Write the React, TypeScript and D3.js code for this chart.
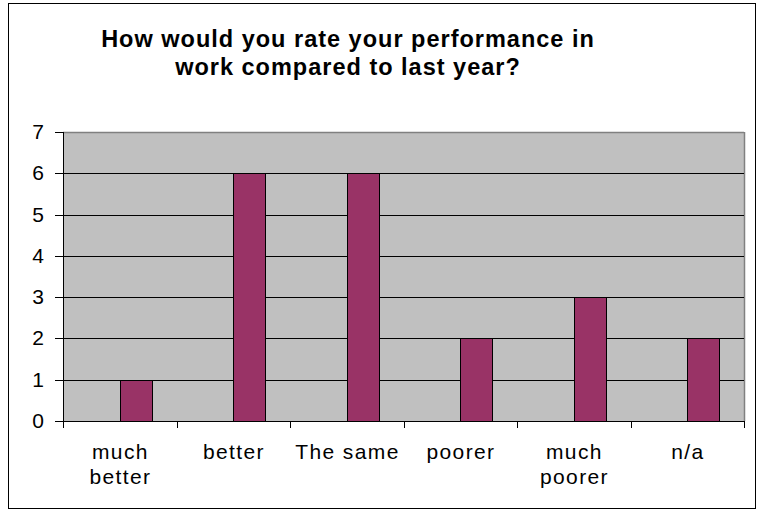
import * as d3 from 'd3';
import React from 'react';

const categories = ['much better', 'better', 'The same', 'poorer', 'much poorer', 'n/a'];
const counts = [1, 6, 6, 2, 3, 2];
const yTicks = [0, 1, 2, 3, 4, 5, 6, 7];
const titleLines = ['How would you rate your performance in', 'work compared to last year?'];

const App = () => {
	const width = 757;
	const height = 510;
	const plot = { left: 63, right: 744, top: 132, bottom: 421 };

	const x = d3.scaleBand().domain(categories).range([plot.left, plot.right]);
	const y = d3.scaleLinear().domain([0, 7]).range([plot.bottom, plot.top]);
	const bw = x.bandwidth();
	const barW = bw * 0.285;
	const font = 'Arial, "Liberation Sans", sans-serif';

	return (
		<svg
			width={width}
			height={height}
			style={{ position: 'absolute', left: 0, top: 0, background: 'white' }}
			fontFamily={font}
		>
			<rect x={8.5} y={3.5} width={747} height={505} fill="white" stroke="black" strokeWidth={1} />
			{titleLines.map((t, i) => (
				<text key={i} x={348} y={47 + i * 28} textAnchor="middle" fontWeight="bold" fontSize={23.5} letterSpacing={1}>
					{t}
				</text>
			))}
			<rect x={plot.left} y={plot.top} width={plot.right - plot.left} height={plot.bottom - plot.top} fill="#C0C0C0" />
			<line x1={plot.left} x2={plot.right} y1={plot.top + 0.5} y2={plot.top + 0.5} stroke="#808080" strokeWidth={1.5} />
			<line x1={plot.right + 0.5} x2={plot.right + 0.5} y1={plot.top} y2={plot.bottom} stroke="#808080" strokeWidth={1.5} />
			{yTicks.filter((v) => v > 0 && v < 7).map((v) => (
				<line key={v} x1={plot.left} x2={plot.right} y1={Math.round(y(v)) + 0.5} y2={Math.round(y(v)) + 0.5} stroke="black" />
			))}
			{categories.map((c, i) => (
				<rect
					key={c}
					x={Math.round((x(c) as number) + bw / 2) + 0.5}
					y={Math.round(y(counts[i])) + 0.5}
					width={Math.round(barW)}
					height={Math.round(y(0)) - Math.round(y(counts[i]))}
					fill="#993366"
					stroke="black"
				/>
			))}
			<line x1={plot.left + 0.5} x2={plot.left + 0.5} y1={plot.top} y2={plot.bottom + 1} stroke="black" />
			<line x1={plot.left} x2={plot.right} y1={plot.bottom + 0.5} y2={plot.bottom + 0.5} stroke="black" />
			{yTicks.map((v) => (
				<g key={v}>
					<line x1={55} x2={plot.left} y1={Math.round(y(v)) + 0.5} y2={Math.round(y(v)) + 0.5} stroke="black" />
					<text x={44} y={y(v) + 7} textAnchor="end" fontSize={21}>
						{v}
					</text>
				</g>
			))}
			{categories.map((c) => (
				<line
					key={'t' + c}
					x1={Math.round(x(c) as number) + 0.5}
					x2={Math.round(x(c) as number) + 0.5}
					y1={plot.bottom}
					y2={plot.bottom + 7}
					stroke="black"
				/>
			))}
			<line x1={plot.right + 0.5} x2={plot.right + 0.5} y1={plot.bottom} y2={plot.bottom + 7} stroke="black" />
			{categories.map((c) => {
				const words = c === 'much better' || c === 'much poorer' ? c.split(' ') : [c];
				const cx = (x(c) as number) + bw / 2 + 0.7;
				return (
					<text key={'l' + c} x={cx} y={459} textAnchor="middle" fontSize={21} letterSpacing={1.4}>
						{words.map((w, i) => (
							<tspan key={i} x={cx} dy={i === 0 ? 0 : 25}>
								{w}
							</tspan>
						))}
					</text>
				);
			})}
		</svg>
	);
};

export default App;
